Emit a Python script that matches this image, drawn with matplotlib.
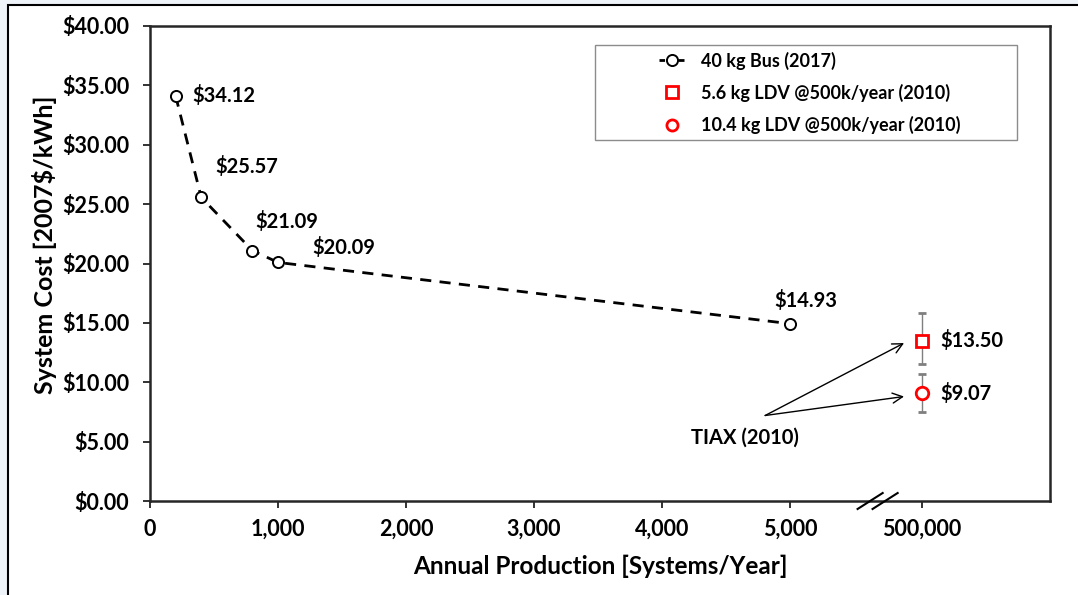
import matplotlib.pyplot as plt
from matplotlib.patches import Rectangle
from matplotlib.lines import Line2D

plt.rcParams['font.family'] = ['Lato', 'DejaVu Sans']
plt.rcParams['font.weight'] = 'bold'

# 40 kg bus system cost curve
bus_prod = [200, 400, 800, 1000, 5000]
bus_cost = [34.12, 25.57, 21.09, 20.09, 14.93]

# TIAX LDV estimates at 500k systems/year
ldv_labels = ['5.6 kg LDV @500k/year (2010)', '10.4 kg LDV @500k/year (2010)']
ldv_cost = [13.50, 9.07]
ldv_err_low = [2.0, 1.6]
ldv_err_high = [2.3, 1.6]

x_ticks = [0, 1000, 2000, 3000, 4000, 5000]
x_tick_labels = ['0', '1,000', '2,000', '3,000', '4,000', '5,000']
P500K = 6030  # where 500,000 sits past the axis break

fig = plt.figure(figsize=(10.78, 5.95), dpi=100)
fig.patch.set_facecolor('#eef3fa')
# slide frame
fig.patches.append(Rectangle((8 / 1078, -0.1), 1.1, (595 - 5) / 595 + 0.1,
                             transform=fig.transFigure, facecolor='white',
                             edgecolor='black', lw=1.5, zorder=-10))

ax = fig.add_axes([150 / 1078, (595 - 501) / 595, 900 / 1078, 475 / 595])
ax.set_facecolor('white')

ax.plot(bus_prod, bus_cost, color='black', ls='--', dashes=(4, 3), lw=2,
        marker='o', ms=8, mfc='white', mec='black', mew=1.4,
        label='40 kg Bus (2017)', zorder=3)

ax.errorbar([P500K], [ldv_cost[0]], yerr=[[ldv_err_low[0]], [ldv_err_high[0]]],
            fmt='s', ms=9, mfc='white', mec='red', mew=2, ecolor='#7f7f7f',
            elinewidth=1, capsize=3, label=ldv_labels[0], zorder=3)
ax.errorbar([P500K], [ldv_cost[1]], yerr=[[ldv_err_low[1]], [ldv_err_high[1]]],
            fmt='o', ms=9, mfc='white', mec='red', mew=2, ecolor='#7f7f7f',
            elinewidth=1, capsize=3, label=ldv_labels[1], zorder=3)

# value labels
lab_fs = 14.5
offsets = [(12, 0, 'left', 'center'), (10, 22, 'left', 'center'),
           (2, 21, 'left', 'center'), (25, 11, 'left', 'center'),
           (11, 17, 'center', 'center')]
for x, y, (dx, dy, ha, va) in zip(bus_prod, bus_cost, offsets):
    ax.annotate(f'${y:.2f}', (x, y), xytext=(dx, dy), textcoords='offset points',
                ha=ha, va=va, fontsize=lab_fs, fontweight='bold')
for y in ldv_cost:
    ax.annotate(f'${y:.2f}', (P500K, y), xytext=(13, 0), textcoords='offset points',
                ha='left', va='center', fontsize=lab_fs, fontweight='bold')

# TIAX callout
tail = (4805, 7.2)
for y in [13.3, 8.8]:
    ax.annotate('', xy=(5890, y), xytext=tail,
                arrowprops=dict(arrowstyle='->', color='black', lw=1,
                                mutation_scale=18, shrinkA=0, shrinkB=0))
ax.text(4650, 5.3, 'TIAX (2010)', ha='center', va='center', fontsize=14.5,
        fontweight='bold')

ax.set_xlim(0, 7030)
ax.set_ylim(0, 40)
ax.set_xticks(x_ticks + [P500K])
ax.set_xticklabels(x_tick_labels + ['500,000'])
ax.set_yticks(range(0, 41, 5))
ax.set_yticklabels([f'${v:.2f}' for v in range(0, 41, 5)])
ax.tick_params(direction='out', length=5, width=1.3, labelsize=15.5,
               color='#222222')
ax.tick_params(axis='y', pad=10)
ax.tick_params(axis='x', pad=8)
for t in ax.get_xticklabels() + ax.get_yticklabels():
    t.set_fontweight('bold')
for s in ax.spines.values():
    s.set_color('#262626')
    s.set_linewidth(1.8)

# axis break marks
h = 8 / 475
for xc in [5625, 5742]:
    ax.plot([xc - 98, xc + 98], [-h, h], color='black', lw=1.5,
            transform=ax.get_xaxis_transform(), clip_on=False, zorder=5)

ax.set_xlabel('Annual Production [Systems/Year]', fontsize=17.5, fontweight='bold')
ax.xaxis.set_label_coords(0.5, -0.113)
fig.text(45 / 1078, 1 - 245 / 595, 'System Cost [2007$/kWh]', rotation=90,
         ha='center', va='center', fontsize=18, fontweight='bold')

# legend with its own frame
ax.add_patch(Rectangle(((595 - 150) / 900, (501 - 140) / 475), 422 / 900, 95 / 475,
                       transform=ax.transAxes, facecolor='white',
                       edgecolor='#8c8c8c', lw=1, zorder=4))
handles = [
    Line2D([], [], color='black', ls='--', dashes=(2, 1.5), lw=2, marker='o',
           ms=8, mfc='white', mec='black', mew=1.4),
    Line2D([], [], ls='none', marker='s', ms=8, mfc='white', mec='red', mew=2),
    Line2D([], [], ls='none', marker='o', ms=8, mfc='white', mec='red', mew=2),
]
leg = ax.legend(handles, ['40 kg Bus (2017)'] + ldv_labels, loc='upper left',
                bbox_to_anchor=((645 - 150) / 900, (501 - 37) / 475),
                frameon=False, fontsize=13, handlelength=1.4, handletextpad=0.9,
                labelspacing=0.78, borderpad=0.3)
leg.set_zorder(6)
for t in leg.get_texts():
    t.set_fontweight('bold')

fig.savefig('out.png', dpi=100, facecolor=fig.get_facecolor())
